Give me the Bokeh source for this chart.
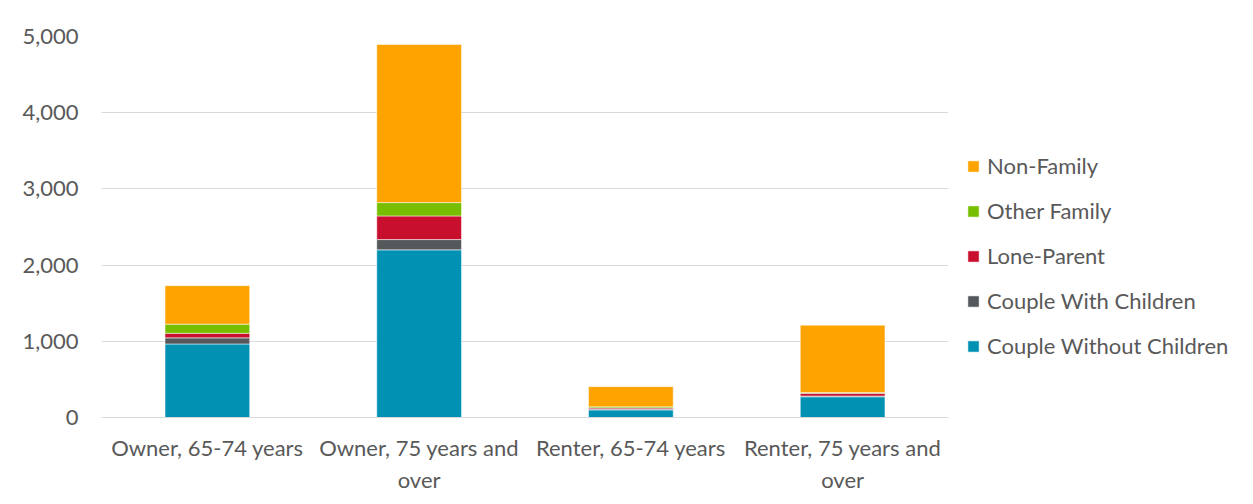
from bokeh.plotting import figure
from bokeh.models import ColumnDataSource, Range1d, Legend, LegendItem, NumeralTickFormatter, FixedTicker
from bokeh.embed import file_html
from bokeh.resources import INLINE

categories = ["Owner, 65-74 years", "Owner, 75 years and\nover", "Renter, 65-74 years", "Renter, 75 years and\nover"]
series = ["Couple Without Children", "Couple With Children", "Lone-Parent", "Other Family", "Non-Family"]
couple_without = [965, 2200, 100, 272]
couple_with = [80, 135, 10, 10]
lone_parent = [60, 310, 15, 35]
other_family = [120, 175, 15, 10]
non_family = [505, 2075, 265, 885]
colors = ["#0091B3", "#54585A", "#C8102E", "#78BE00", "#FFA300"]

data = {"cat": categories,
        "Couple Without Children": couple_without,
        "Couple With Children": couple_with,
        "Lone-Parent": lone_parent,
        "Other Family": other_family,
        "Non-Family": non_family}
source = ColumnDataSource(data)

FONT = "Lato"
TXT = "#595959"

p = figure(x_range=categories, y_range=Range1d(0, 5000),
           frame_width=847, frame_height=381,
           output_backend="svg", toolbar_location=None,
           min_border_left=101, min_border_right=10, min_border_top=36, min_border_bottom=71)

renderers = p.vbar_stack(series, x="cat", width=0.40, source=source, color=colors,
                         line_color="white", line_width=0.5)

p.outline_line_color = None
p.xgrid.grid_line_color = None
p.ygrid.grid_line_color = "#d9d9d9"
p.ygrid.grid_line_width = 1

p.yaxis.ticker = FixedTicker(ticks=[0, 1000, 2000, 3000, 4000, 5000])
p.yaxis.formatter = NumeralTickFormatter(format="0,0")
p.yaxis.axis_line_color = None
p.yaxis.major_tick_line_color = None
p.yaxis.minor_tick_line_color = None
p.yaxis.major_label_text_font = FONT
p.yaxis.major_label_text_font_size = "22px"
p.yaxis.major_label_text_color = TXT
p.yaxis.major_label_standoff = 17

p.xaxis.axis_line_color = "#d9d9d9"
p.xaxis.major_tick_line_color = None
p.xaxis.minor_tick_line_color = None
p.xaxis.major_label_text_font = FONT
p.xaxis.major_label_text_font_size = "22px"
p.xaxis.major_label_text_color = TXT
p.xaxis.major_label_standoff = 10

items = [LegendItem(label=s, renderers=[r]) for s, r in zip(series, renderers)][::-1]
legend = Legend(items=items, location=(18, 58))
legend.label_text_font = FONT
legend.label_text_font_size = "22px"
legend.label_text_color = TXT
legend.glyph_width = 14
legend.glyph_height = 14
legend.label_height = 20
legend.label_standoff = 7
legend.spacing = 18
legend.padding = 10
legend.margin = 0
legend.border_line_color = None
legend.background_fill_alpha = 0
p.add_layout(legend, "right")

open("out.html", "w").write(file_html(p, INLINE))
